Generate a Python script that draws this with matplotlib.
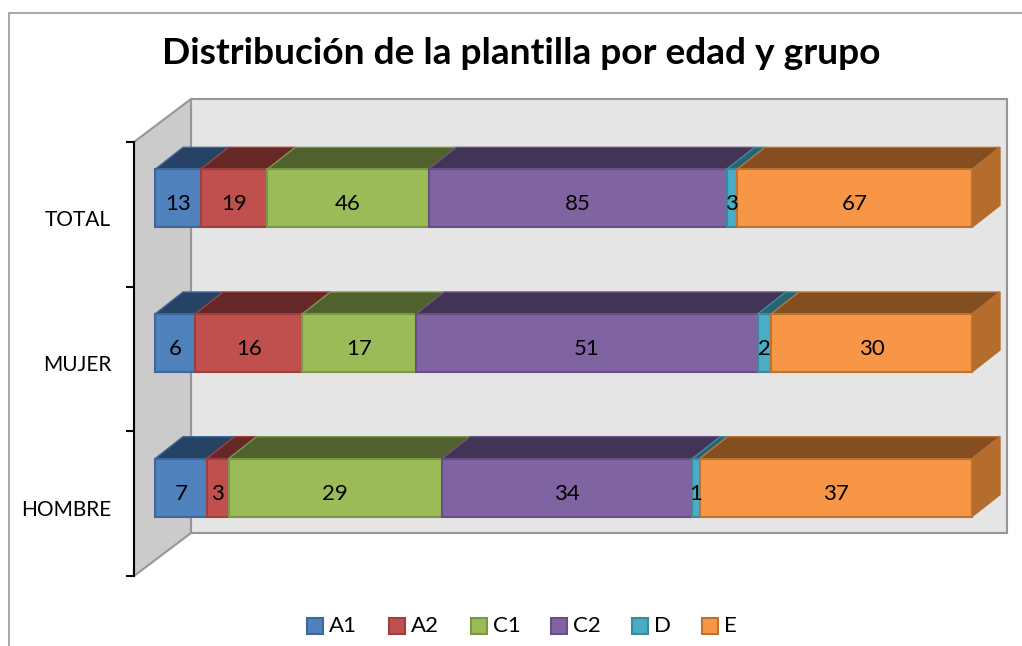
import matplotlib
matplotlib.use('Agg')
import matplotlib.pyplot as plt
from matplotlib.patches import Polygon, Rectangle
import numpy as np

matplotlib.rcParams['font.family'] = ['Lato', 'DejaVu Sans']

rows = ['HOMBRE', 'MUJER', 'TOTAL']
names = ['A1', 'A2', 'C1', 'C2', 'D', 'E']
a1 = [7, 6, 13]
a2 = [3, 16, 19]
c1 = [29, 17, 46]
c2 = [34, 51, 85]
d = [1, 2, 3]
e = [37, 30, 67]
title = 'Distribución de la plantilla por edad y grupo'

faces = ['#4F81BD', '#C0504D', '#9BBB59', '#8064A2', '#4BACC6', '#F79646']
edges = ['#3F6797', '#9A403E', '#7C9647', '#664F82', '#3C899E', '#B97434']
tops = ['#264365', '#662826', '#50612D', '#423454', '#276473', '#854E20']
side = '#B56D2E'

W, H = 1022, 646
fig = plt.figure(figsize=(W / 100, H / 100), dpi=100)

# chart frame, runs off the right and bottom of the picture
fig.add_artist(Rectangle((8.5 / W, -0.1), 1.1, 1.1 - 12.5 / H, transform=fig.transFigure,
                         fill=False, edgecolor='#A0A0A0', linewidth=1.3))

ax = fig.add_axes([134 / W, 1 - 576 / H, (1007 - 134) / W, (576 - 142) / H])
ax.patch.set_visible(False)
px_x = 8.17      # pixels per percent
px_y = 434 / 3   # pixels per row
ax.set_xlim(-21 / px_x, (1007 - 155) / px_x)
ax.set_ylim(-0.5, 2.5)
x0, x1 = ax.get_xlim()

# walls
wall_dx = 57 / px_x
wall_dy = 43 / px_y
wall = dict(edgecolor='#969696', linewidth=1.5, clip_on=False, joinstyle='miter')
ax.add_patch(Polygon([(x0 + wall_dx, -0.5 + wall_dy), (x1, -0.5 + wall_dy), (x1, 2.5 + wall_dy),
                      (x0 + wall_dx, 2.5 + wall_dy)], facecolor='#E5E5E5', zorder=1, **wall))
ax.add_patch(Polygon([(x0, -0.5), (x0 + wall_dx, -0.5 + wall_dy), (x0 + wall_dx, 2.5 + wall_dy),
                      (x0, 2.5)], facecolor='#CBCBCB', zorder=1.1, **wall))

# bars
series = [a1, a2, c1, c2, d, e]
totals = np.sum(series, axis=0)
bar_dx = 28 / px_x
bar_dy = 22 / px_y
shift = 16 / px_y
bar_h = 58 / px_y
ypos = np.arange(len(rows)) + shift

left = np.zeros(len(rows))
for k, vals in enumerate(series):
    pct = np.array(vals) / totals * 100
    ax.barh(ypos, pct, height=bar_h, left=left, color=faces[k], edgecolor=edges[k],
            linewidth=1.5, zorder=3)
    for i in range(len(rows)):
        ytop = ypos[i] + bar_h / 2
        a = left[i]
        b = left[i] + pct[i]
        ax.add_patch(Polygon([(a, ytop), (b, ytop), (b + bar_dx, ytop + bar_dy), (a + bar_dx, ytop + bar_dy)],
                             facecolor=tops[k], edgecolor=edges[k], linewidth=1, zorder=2 + k * 0.1,
                             clip_on=False))
        ax.text(a + pct[i] / 2, ypos[i] - 6 / px_y, str(vals[i]), ha='center', va='center',
                fontsize=16, color='black', zorder=4)
    left = left + pct

# right end of the orange bars
for i in range(len(rows)):
    ylo = ypos[i] - bar_h / 2
    yhi = ypos[i] + bar_h / 2
    ax.add_patch(Polygon([(100, ylo), (100 + bar_dx, ylo + bar_dy), (100 + bar_dx, yhi + bar_dy), (100, yhi)],
                         facecolor=side, edgecolor=side, linewidth=1, zorder=2.5, clip_on=False))

for s in ['top', 'right', 'bottom']:
    ax.spines[s].set_visible(False)
ax.spines['left'].set_linewidth(1.5)
ax.spines['left'].set_zorder(5)
ax.set_xticks([])
ax.set_yticks([-0.5, 0.5, 1.5, 2.5])
ax.set_yticklabels([])
ax.tick_params(axis='y', which='major', length=5.5, width=1.5)
ax.set_yticks(np.arange(len(rows)) - 4 / px_y, labels=rows, minor=True)
ax.tick_params(axis='y', which='minor', length=0, pad=16.5, labelsize=15)

fig.text(521 / W, 1 - 53 / H, title, ha='center', va='center', fontsize=26.7, fontweight='bold')

# legend laid out by hand, the spacing is not even
legend_x = [307, 389, 471, 551, 632, 702]
for k, lx in enumerate(legend_x):
    fig.add_artist(Rectangle((lx / W, 1 - 634 / H), 16 / W, 16 / H, transform=fig.transFigure,
                             facecolor=faces[k], edgecolor=edges[k], linewidth=1.5))
    fig.text((lx + 22) / W, 1 - 626 / H, names[k], ha='left', va='center', fontsize=16)

fig.savefig('out.png', dpi=100)
